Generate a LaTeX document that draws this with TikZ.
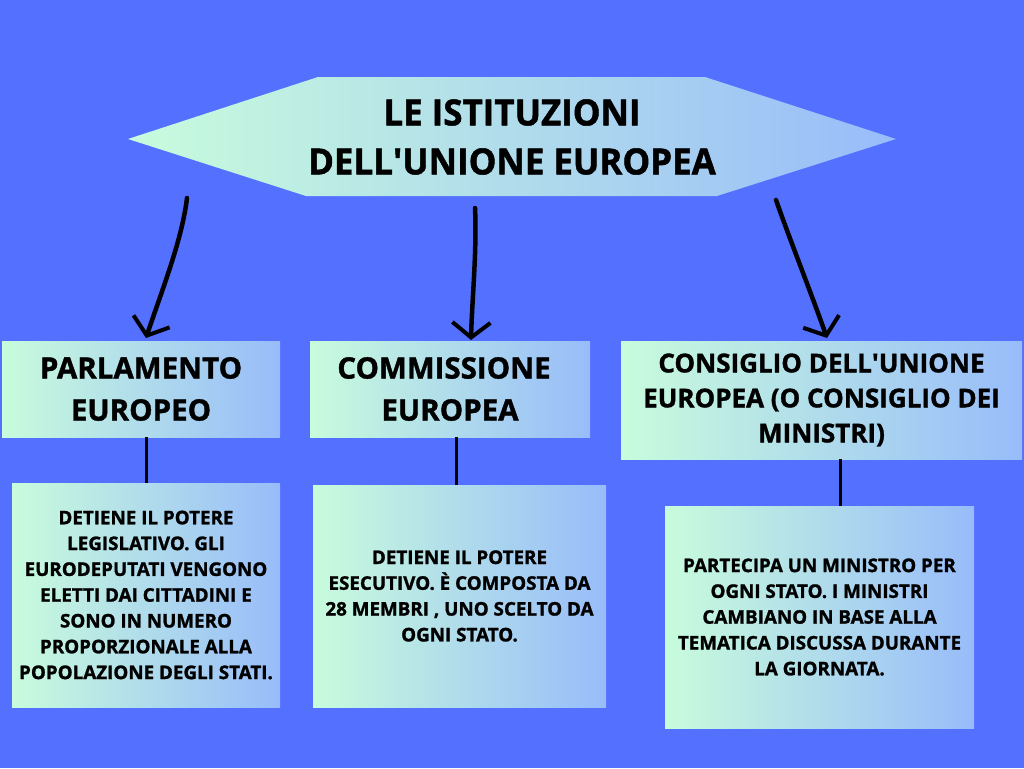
\documentclass[tikz,border=0pt]{standalone}
\usepackage{fontspec}
\setmainfont{Open Sans}[BoldFeatures={FakeBold=1.3}]
\usetikzlibrary{arrows.meta}
\definecolor{bg}{RGB}{84,112,255}
\definecolor{mint}{RGB}{200,252,220}
\definecolor{sky}{RGB}{152,188,250}
\tikzset{
  gbox/.style={rectangle, left color=mint, right color=sky, inner sep=0pt, align=center},
  headtxt/.style={font=\fontsize{29.5}{42}\selectfont\bfseries},
  bodytxt/.style={font=\fontsize{18.8}{25.8}\selectfont\bfseries},
  conn/.style={line width=3pt, black},
  handarrow/.style={line width=4.5pt, line cap=round, -{Straight Barb[length=15pt,width=38pt,line width=4pt]}}
}
\begin{document}
\begin{tikzpicture}[x=1pt,y=-1pt]
\fill[bg] (0,0) rectangle (1024,768);
\useasboundingbox (0,0) rectangle (1024,768);
% title hexagon
\shade[left color=mint, right color=sky] (128,139) -- (318,77) -- (705,77) -- (896,139) -- (717,196) -- (306,196) -- cycle;
\node[align=center, font=\fontsize{36}{49}\selectfont\bfseries, xscale=0.97] (title) at (512,137) {LE ISTITUZIONI\\DELL\textquotesingle UNIONE EUROPEA};
% top row
\node[gbox, minimum width=278pt, minimum height=96pt, headtxt] (b1) at (141,389) {PARLAMENTO\\EUROPEO};
\node[gbox, minimum width=280pt, minimum height=96pt, headtxt] (b2) at (450,389) {\hspace*{-12pt}COMMISSIONE\\EUROPEA};
\node[gbox, minimum width=401pt, minimum height=118pt, font=\fontsize{26}{35}\selectfont\bfseries] (b3) at (821.5,400) {CONSIGLIO DELL\textquotesingle UNIONE\\EUROPEA (O CONSIGLIO DEI\\MINISTRI)};
% bottom row
\node[gbox, minimum width=268pt, minimum height=224pt, bodytxt] (d1) at (146,595) {DETIENE IL POTERE\\LEGISLATIVO. GLI\\EURODEPUTATI VENGONO\\ELETTI DAI CITTADINI E\\SONO IN NUMERO\\PROPORZIONALE ALLA\\POPOLAZIONE DEGLI STATI.};
\node[gbox, minimum width=293pt, minimum height=222pt, bodytxt] (d2) at (459.5,596) {DETIENE IL POTERE\\ESECUTIVO. È COMPOSTA DA\\28 MEMBRI , UNO SCELTO DA\\OGNI STATO.};
\node[gbox, minimum width=309pt, minimum height=222pt, bodytxt] (d3) at (819.5,617) {PARTECIPA UN MINISTRO PER\\OGNI STATO. I MINISTRI\\CAMBIANO IN BASE ALLA\\TEMATICA DISCUSSA DURANTE\\LA GIORNATA.};
% connectors
\draw[conn] (b1.south -| d1.north) -- (d1.north);
\draw[conn] ([xshift=-3pt]b2.south -| d2.north) -- ([xshift=-3pt]d2.north);
\draw[conn] ([xshift=21pt]b3.south -| d3.north) -- ([xshift=21pt]d3.north);
% arrows
\coordinate (s1) at (187,198);
\coordinate (e1) at (146,338);
\coordinate (s2) at (475,208);
\coordinate (e2) at (471,340);
\coordinate (s3) at (776,200);
\coordinate (e3) at (827,338);
\draw[handarrow] (s1) .. controls (182,240) and (162,290) .. (e1);
\draw[handarrow] (s2) .. controls (477,250) and (472,300) .. (e2);
\draw[handarrow] (s3) .. controls (790,240) and (810,290) .. (e3);
\end{tikzpicture}
\end{document}
